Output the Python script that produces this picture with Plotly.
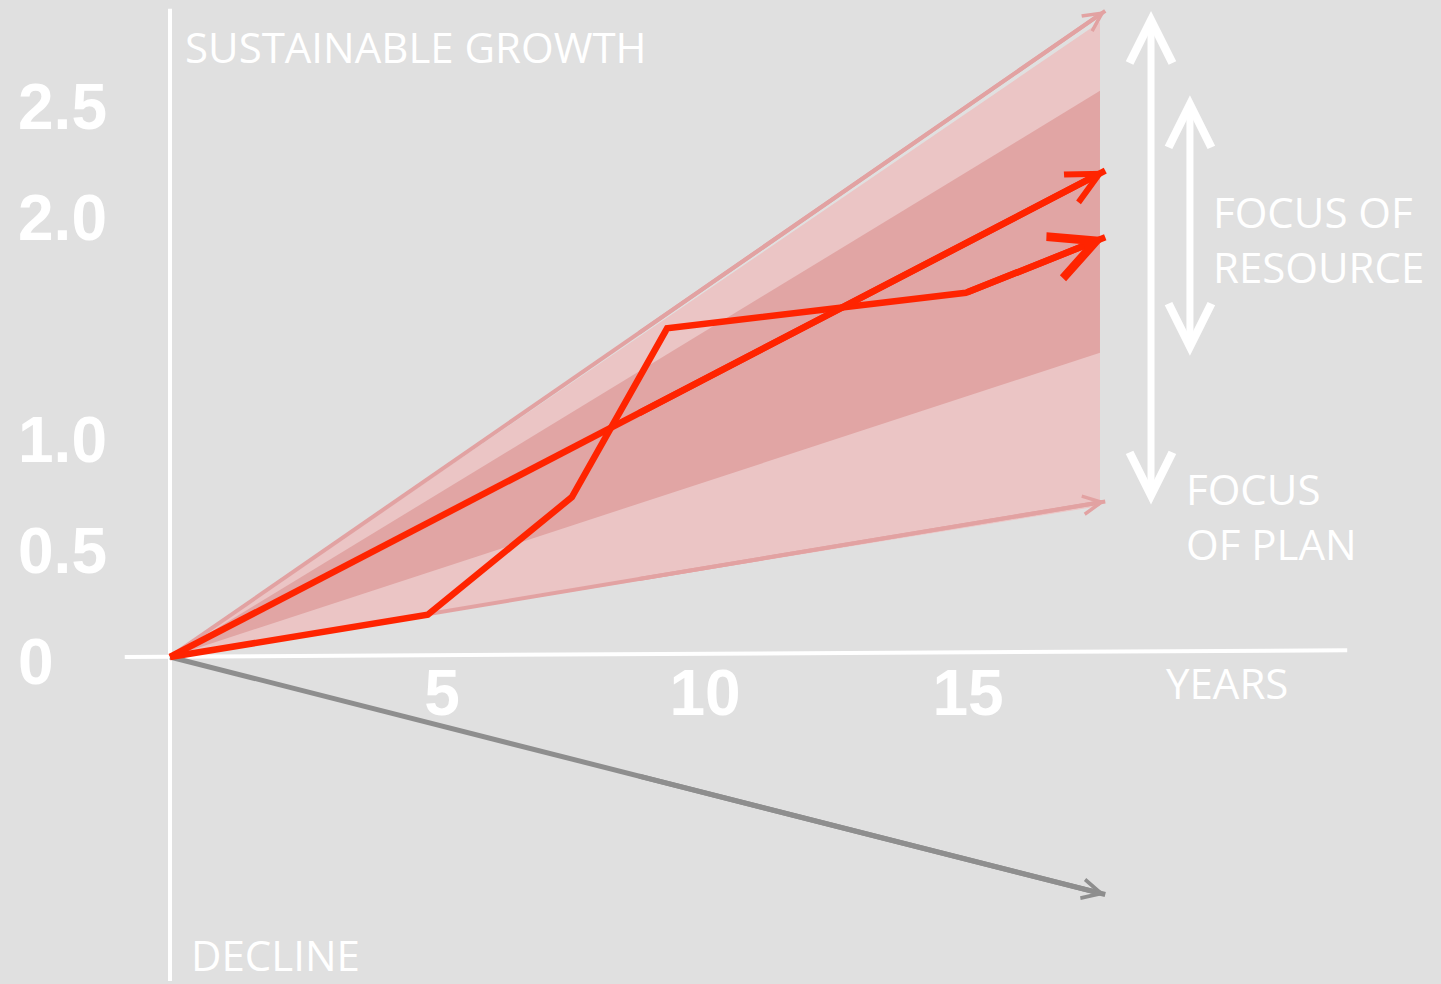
import plotly.graph_objects as go

# years on x, growth factor on y
outer_band_x = [0, 17.68, 17.68, 0]
outer_band_y = [0, 2.86, 0.68, 0]
inner_band_x = [0, 17.68, 17.68, 0]
inner_band_y = [0, 2.55, 1.37, 0]

upper_limit = ([0, 17.78], [0, 2.91])
lower_limit = ([0, 17.78], [0, 0.70])
decline = ([0, 17.78], [0, -1.07])

trend_x = [0, 17.78]
trend_y = [0, 2.19]

actual_x = [0, 4.9, 7.64, 9.45, 15.13, 17.78]
actual_y = [0, 0.19, 0.72, 1.48, 1.64, 1.89]

resource_range = (19.39, 1.35, 2.53)   # x, low, high
plan_range = (18.65, 0.68, 2.91)

x_ticks = [5, 10, 15]
x_labels = ['5', '10', '15']
y_ticks = [0, 0.5, 1.0, 2.0, 2.5]
y_labels = ['0', '0.5', '1.0', '2.0', '2.5']

axis_x_line = ([-0.86, 22.38], [0, 0.03])
axis_y_line = ([0, 0], [2.92, -1.46])

BG = '#e0e0e0'
RED = '#ff2400'
PINK_LINE = '#e2a2a2'
GREY_LINE = '#8e8e8e'
TEXT_FONT = 'Open Sans'

fig = go.Figure()


def line(xs, ys, color, width):
    fig.add_scatter(x=xs, y=ys, mode='lines', line=dict(color=color, width=width),
                    hoverinfo='skip', showlegend=False)


def arrow(x0, y0, x1, y1, color, width, size, head=5, both=False):
    fig.add_annotation(x=x1, y=y1, ax=x0, ay=y0, xref='x', yref='y', axref='x', ayref='y',
                       text='', showarrow=True, arrowhead=head, arrowsize=size,
                       arrowwidth=width, arrowcolor=color, standoff=0, startstandoff=0,
                       arrowside='end+start' if both else 'end',
                       startarrowhead=head, startarrowsize=size)


def head_only(xs, ys, color, width, size, frac=0.5):
    # stub along the last segment, just to carry the arrow head
    x1, y1 = xs[-1], ys[-1]
    x0 = xs[-2] + frac * (x1 - xs[-2])
    y0 = ys[-2] + frac * (y1 - ys[-2])
    arrow(x0, y0, x1, y1, color, width, size)


fig.add_scatter(x=outer_band_x, y=outer_band_y, fill='toself', fillcolor='#ebc5c5',
                line=dict(width=0), mode='lines', hoverinfo='skip', showlegend=False)
fig.add_scatter(x=inner_band_x, y=inner_band_y, fill='toself', fillcolor='#e1a5a4',
                line=dict(width=0), mode='lines', hoverinfo='skip', showlegend=False)

line(*upper_limit, PINK_LINE, 4)
line(*lower_limit, PINK_LINE, 4)
line(*decline, GREY_LINE, 5)
line(trend_x, trend_y, RED, 6.5)
line(actual_x, actual_y, RED, 6.5)

head_only(*upper_limit, PINK_LINE, 4, 0.9)
head_only(*lower_limit, PINK_LINE, 4, 0.9)
head_only(*decline, GREY_LINE, 5, 0.75)
head_only(trend_x, trend_y, RED, 6.5, 0.95)
head_only(actual_x, actual_y, RED, 6.5, 1.35, frac=0.0)

arrow(plan_range[0], plan_range[1], plan_range[0], plan_range[2], 'white', 7, 1.2, both=True)
arrow(resource_range[0], resource_range[1], resource_range[0], resource_range[2], 'white', 7, 1.2, both=True)

labels = [
    ('SUSTAINABLE GROWTH', 0.24, 2.748),
    ('DECLINE', 0.36, -1.342),
    ('YEARS', 18.89, -0.117),
    ('FOCUS OF<br>RESOURCE', 19.79, 1.881),
    ('FOCUS<br>OF PLAN', 19.27, 0.633),
]
for text, x, y in labels:
    fig.add_annotation(x=x, y=y, xref='x', yref='y', text=text, showarrow=False,
                       xanchor='left', yanchor='middle', align='left',
                       font=dict(family=TEXT_FONT, size=42, color='white'))

for xs, ys in (axis_x_line, axis_y_line):
    fig.add_shape(type='line', x0=xs[0], x1=xs[1], y0=ys[0], y1=ys[1], xref='x', yref='y',
                  line=dict(color='white', width=4), layer='below')

tick_font = dict(family='Liberation Sans, Arial', size=64, color='white', weight='bold')

fig.update_layout(
    width=1441, height=984,
    margin=dict(l=0, r=0, t=0, b=0),
    paper_bgcolor=BG, plot_bgcolor=BG,
    showlegend=False,
    xaxis=dict(range=[-3.232, 24.163], showgrid=False, zeroline=False, showline=False,
               tickvals=x_ticks, ticktext=x_labels, tickfont=tick_font, ticks='',
               anchor='free', position=0.3394, automargin=False,
               ticklabelstandoff=0, ticklabelshift=9, fixedrange=True),
    yaxis=dict(range=[-1.473, 2.959], showgrid=False, zeroline=False, showline=False,
               tickvals=y_ticks, ticktext=y_labels, tickfont=tick_font, ticks='',
               anchor='free', position=0, ticklabelposition='inside', automargin=False,
               ticklabelstandoff=14, ticklabelshift=5, fixedrange=True),
)

fig.write_html('out.html', config={'displayModeBar': False},
               post_script="document.body.style.margin='0';")
